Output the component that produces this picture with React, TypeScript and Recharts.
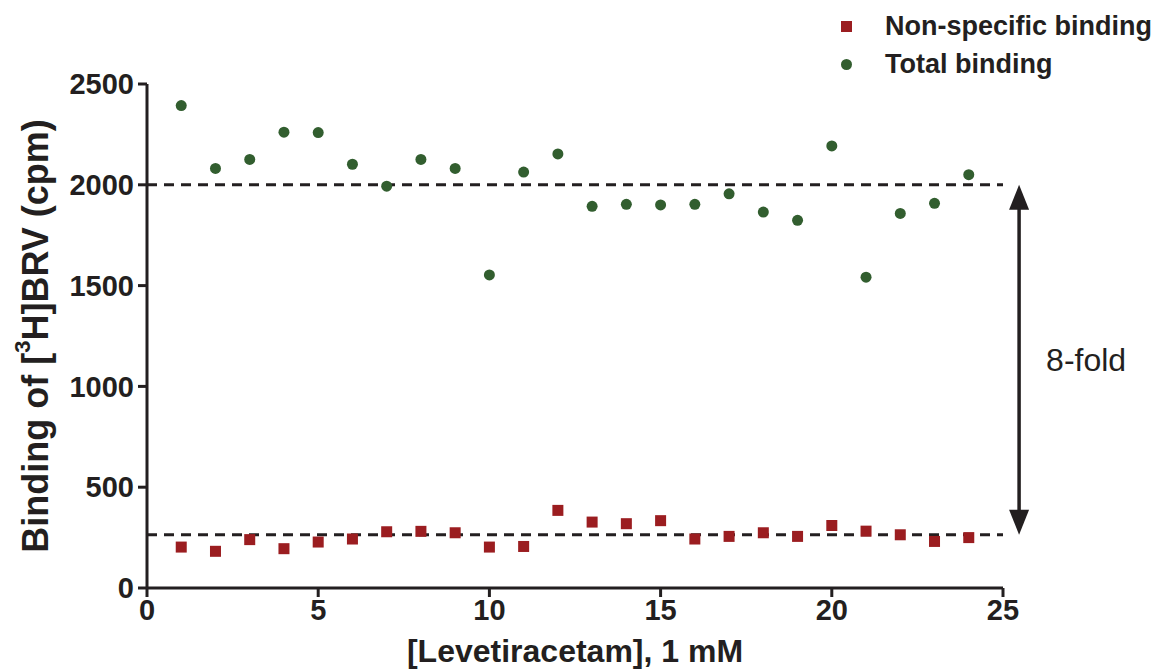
import React from 'react';
import { ScatterChart, Scatter, XAxis, YAxis, ReferenceLine } from 'recharts';

const concentrations = [1, 2, 3, 4, 5, 6, 7, 8, 9, 10, 11, 12, 13, 14, 15, 16, 17, 18, 19, 20, 21, 22, 23, 24];
const totalBinding = [2393, 2081, 2126, 2261, 2259, 2102, 1993, 2126, 2081, 1553, 2063, 2153, 1893, 1903, 1900, 1903, 1955, 1865, 1824, 2193, 1542, 1858, 1908, 2050];
const nonSpecificBinding = [203, 182, 240, 195, 228, 243, 279, 281, 274, 203, 206, 385, 327, 319, 334, 243, 256, 274, 256, 310, 282, 264, 231, 250];
const xTicks = [0, 5, 10, 15, 20, 25];
const yTicks = [0, 500, 1000, 1500, 2000, 2500];
const totalLevel = 2000;
const nonSpecificLevel = 264;
const arrowX = 25.47;

const totalData = concentrations.map((x, i) => ({ x, y: totalBinding[i] }));
const nonSpecificData = concentrations.map((x, i) => ({ x, y: nonSpecificBinding[i] }));

const INK = '#231f20';
const RED = '#9b1d20';
const GREEN = '#325e2f';
const FONT = '"Liberation Sans", Arial, Helvetica, sans-serif';

const SquareDot = (p: any) => <rect x={p.cx - 5.5} y={p.cy - 5.5} width={11} height={11} fill={RED} />;
const CircleDot = (p: any) => <circle cx={p.cx} cy={p.cy} r={5.5} fill={GREEN} />;

const FoldArrow = (p: any) => {
  const { x1, y1, y2 } = p;
  const top = Math.min(y1, y2);
  const bottom = Math.max(y1, y2);
  const x = x1;
  return (
    <g>
      <line x1={x} y1={top + 20} x2={x} y2={bottom - 20} stroke={INK} strokeWidth={3.5} />
      <polygon points={`${x},${top} ${x - 10},${top + 25} ${x + 10},${top + 25}`} fill={INK} />
      <polygon points={`${x},${bottom} ${x - 10},${bottom - 25} ${x + 10},${bottom - 25}`} fill={INK} />
      <text x={x + 27} y={(top + bottom) / 2} dominantBaseline="central" fontFamily={FONT} fontSize={32} fill={INK}>
        8-fold
      </text>
    </g>
  );
};

const LegendBox = () => (
  <div style={{ position: 'absolute', top: 7, left: 841, fontFamily: FONT, fontWeight: 'bold', fontSize: 27, color: INK, lineHeight: '38px' }}>
    <div style={{ display: 'flex', alignItems: 'center' }}>
      <span style={{ width: 11, height: 11, background: RED, display: 'inline-block', marginRight: 33 }} />
      Non-specific binding
    </div>
    <div style={{ display: 'flex', alignItems: 'center' }}>
      <span style={{ width: 11, height: 11, borderRadius: '50%', background: GREEN, display: 'inline-block', marginRight: 33 }} />
      Total binding
    </div>
  </div>
);

const YLabel = (props: any) => {
  const vb = props.viewBox;
  const cx = vb.x + 35;
  const cy = vb.y + vb.height / 2;
  return (
    <text x={cx} y={cy} transform={`rotate(-90, ${cx}, ${cy})`} textAnchor="middle" dominantBaseline="central"
      fontFamily={FONT} fontWeight="bold" fontSize={36} fill={INK}>
      Binding of [<tspan dy={-13} fontSize={22}>3</tspan><tspan dy={13}>H]BRV (cpm)</tspan>
    </text>
  );
};

const XLabel = (props: any) => {
  const vb = props.viewBox;
  return (
    <text x={vb.x + vb.width / 2} y={vb.y + 74} textAnchor="middle" fontFamily={FONT} fontWeight="bold" fontSize={32} fill={INK}>
      [Levetiracetam], 1 mM
    </text>
  );
};

const tickStyle = { fontFamily: FONT, fontWeight: 'bold', fontSize: 29, fill: INK };

export default function App() {
  return (
    <div style={{ position: 'absolute', left: 0, top: 0, width: 1159, height: 672, background: '#fff' }}>
      <ScatterChart width={1159} height={672} margin={{ top: 84, right: 156, bottom: 0, left: 0 }}>
        <XAxis
          type="number"
          dataKey="x"
          domain={[0, 25]}
          ticks={xTicks}
          height={84}
          stroke={INK}
          strokeWidth={3}
          tickSize={9}
          tickMargin={2}
          tick={tickStyle}
          label={<XLabel />}
        />
        <YAxis
          type="number"
          dataKey="y"
          domain={[0, 2500]}
          ticks={yTicks}
          width={147}
          stroke={INK}
          strokeWidth={3}
          tickSize={9}
          tickMargin={4}
          tick={tickStyle}
          label={<YLabel />}
        />
        <ReferenceLine y={totalLevel} stroke={INK} strokeWidth={3} strokeDasharray="10 7" />
        <ReferenceLine y={nonSpecificLevel} stroke={INK} strokeWidth={3} strokeDasharray="10 7" />
        <ReferenceLine
          segment={[{ x: arrowX, y: totalLevel }, { x: arrowX, y: nonSpecificLevel }]}
          ifOverflow="visible"
          shape={FoldArrow}
        />
        <Scatter name="Non-specific binding" data={nonSpecificData} shape={SquareDot} isAnimationActive={false} />
        <Scatter name="Total binding" data={totalData} shape={CircleDot} isAnimationActive={false} />
      </ScatterChart>
      <LegendBox />
    </div>
  );
}
